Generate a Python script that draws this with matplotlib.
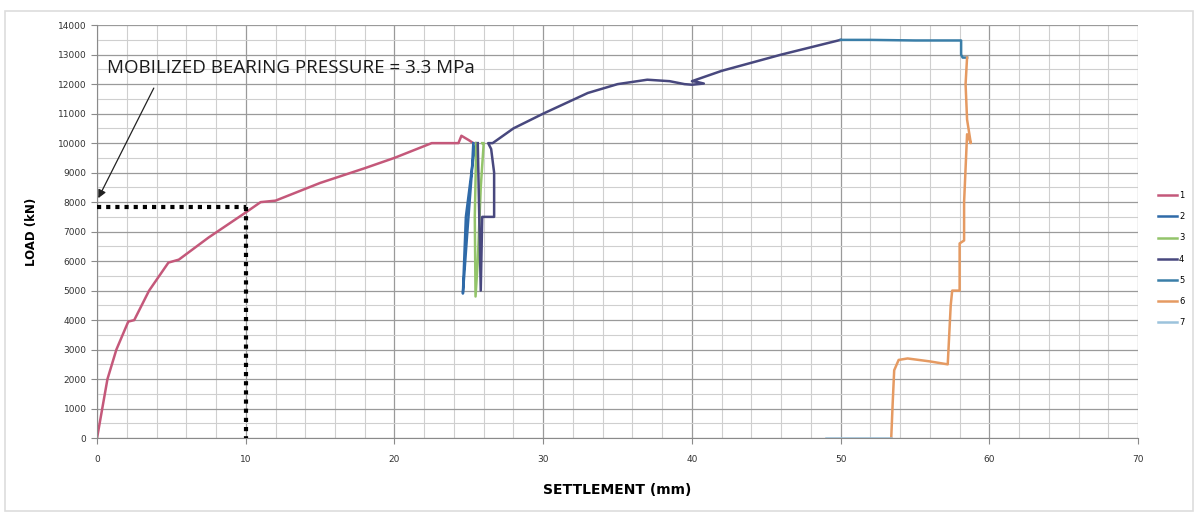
import matplotlib

matplotlib.use("Agg")
import matplotlib.pyplot as plt
from matplotlib.ticker import MultipleLocator

# ---- data (settlement mm, load kN) -----------------------------------------
s1_x = [0, 0.7, 1.3, 2.1, 2.5, 3.5, 4.8, 5.5, 7.5, 10.0, 11.0, 12.0, 15.0, 18.0, 20.0,
        22.5, 24.3, 24.5, 25.0, 25.3]
s1_y = [0, 2000, 3000, 3950, 4000, 5000, 5950, 6050, 6800, 7650, 8000, 8050, 8650, 9150,
        9500, 10000, 10000, 10250, 10100, 10000]

s2_x = [25.3, 25.2, 24.9, 24.6, 24.8, 25.3, 25.5]
s2_y = [10000, 9000, 7000, 4900, 7500, 9500, 10000]

s3_x = [25.5, 25.4, 25.45, 25.6, 25.8, 26.0, 25.9]
s3_y = [10000, 7500, 4800, 6000, 8500, 10000, 10000]

s4_x = [25.6, 25.7, 25.8, 25.9, 26.0, 26.2, 26.7, 26.7, 26.5, 26.3, 26.6, 28.0, 30.0,
        33.0, 35.0, 37.0, 38.5, 39.5, 40.0, 40.8, 40.3, 40.0, 42.0, 46.0, 50.0]
s4_y = [10000, 7500, 5000, 7500, 7500, 7500, 7500, 9000, 9800, 10000, 10000, 10500, 11000,
        11700, 12000, 12150, 12100, 12000, 11980, 12020, 12080, 12100, 12450, 13000, 13500]

s5_x = [50.0, 52.0, 55.0, 58.1, 58.1, 58.2, 58.5]
s5_y = [13500, 13500, 13480, 13480, 13000, 12900, 12900]

s6_x = [53.4, 53.5, 53.6, 53.9, 54.5, 56.0, 57.2, 57.4, 57.5, 58.0, 58.0, 58.3, 58.3,
        58.5, 58.75, 58.5, 58.4, 58.5]
s6_y = [0, 1200, 2300, 2650, 2700, 2600, 2500, 4500, 5000, 5000, 6600, 6700, 8000,
        10300, 10000, 10800, 12000, 12900]

s7_x = [49.0, 51.0, 53.4]
s7_y = [0, 0, 0]

series = [
    ("1", s1_x, s1_y, "#c4587a"),
    ("2", s2_x, s2_y, "#2f6aa8"),
    ("3", s3_x, s3_y, "#93c46a"),
    ("4", s4_x, s4_y, "#48487e"),
    ("5", s5_x, s5_y, "#3a7ea8"),
    ("6", s6_x, s6_y, "#e59a62"),
    ("7", s7_x, s7_y, "#9cc3dc"),
]

mobilized_x = 10.0
mobilized_y = 7850
note = "MOBILIZED BEARING PRESSURE = 3.3 MPa"


def main() -> None:
    fig = plt.figure(figsize=(11.98, 5.13), dpi=100)
    ax = fig.add_axes([0.081, 0.146, 0.869, 0.805])

    ax.set_xlim(0, 70)
    ax.set_ylim(0, 14000)
    ax.xaxis.set_major_locator(MultipleLocator(10))
    ax.xaxis.set_minor_locator(MultipleLocator(2))
    ax.yaxis.set_major_locator(MultipleLocator(1000))
    ax.yaxis.set_minor_locator(MultipleLocator(500))
    ax.grid(which="major", color="#9a9a9a", lw=0.9)
    ax.grid(which="minor", color="#cfcfcf", lw=0.8)
    ax.set_axisbelow(True)
    for side in ("top", "right"):
        ax.spines[side].set_visible(False)
    ax.spines["left"].set_color("#8a8a8a")
    ax.spines["bottom"].set_color("#8a8a8a")
    ax.tick_params(which="major", labelsize=6.5, labelcolor="#333333", color="#8a8a8a", length=4)
    ax.tick_params(which="minor", length=0)
    ax.tick_params(axis="x", pad=8)

    lines = []
    for name, xs, ys, c in series:
        (ln,) = ax.plot(xs, ys, color=c, lw=1.8, label=name, solid_joinstyle="round")
        lines.append(ln)

    # dotted guide lines at 10 mm
    ax.plot([0, mobilized_x], [mobilized_y, mobilized_y], color="black", lw=3,
            ls=(0, (1, 1.2)), zorder=5)
    ax.plot([mobilized_x, mobilized_x], [mobilized_y, 0], color="black", lw=3,
            ls=(0, (1, 1.2)), zorder=5)

    ax.text(0.7, 12550, note, fontsize=13.5, family="Open Sans", va="center", ha="left",
            color="#1a1a1a", zorder=6)
    ax.annotate("", xy=(0, mobilized_y + 200), xytext=(3.9, 11950),
                arrowprops=dict(arrowstyle="-|>", color="#222222", lw=0.9,
                                mutation_scale=12), zorder=6)

    ax.set_xlabel("SETTLEMENT (mm)", fontsize=10, fontweight="bold", labelpad=14)
    ax.set_ylabel("LOAD (kN)", fontsize=8.5, fontweight="bold", labelpad=14)

    fig.legend(handles=lines, loc="center left", bbox_to_anchor=(0.964, 0.495),
               frameon=False, fontsize=6, handlelength=2.3, labelspacing=1.45,
               handletextpad=0.2, borderaxespad=0)

    # faint scan frame around the chart
    fig.patches.append(plt.Rectangle((0.004, 0.004), 0.992, 0.975, transform=fig.transFigure,
                                     fill=False, ec="#dddddd", lw=1.2))

    fig.savefig("out.png", dpi=100)
    plt.close(fig)


if __name__ == "__main__":
    main()
